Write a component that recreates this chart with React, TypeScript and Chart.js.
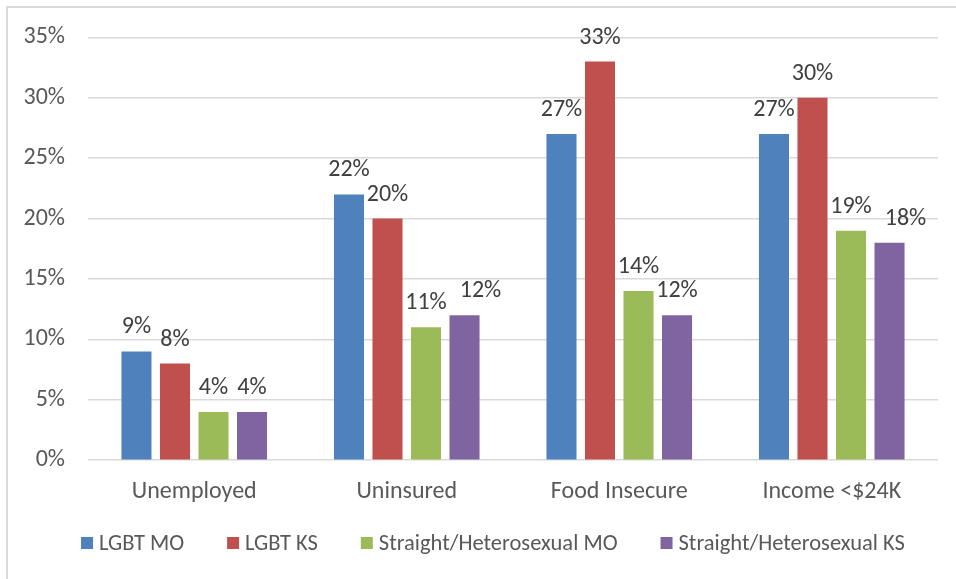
import React, { useEffect, useRef } from "react";
import { Chart, registerables } from "chart.js";

Chart.register(...registerables);

const categories = ["Unemployed", "Uninsured", "Food Insecure", "Income <$24K"];
const seriesNames = ["LGBT MO", "LGBT KS", "Straight/Heterosexual MO", "Straight/Heterosexual KS"];
const lgbtMo = [9, 22, 27, 27];
const lgbtKs = [8, 20, 33, 30];
const straightMo = [4, 11, 14, 19];
const straightKs = [4, 12, 12, 18];
const seriesColors = ["#4f81bd", "#c0504d", "#9bbb59", "#8064a2"];
const yTicks = [0, 5, 10, 15, 20, 25, 30, 35];

const FONT = "Carlito, Calibri, Lato, sans-serif";
const FONT_SIZE = 24;
const LEGEND_FONT_SIZE = 22.5;

// Frame, value labels and the legend row are drawn by this plugin.
const decorations = {
  id: "decorations",
  beforeDraw(chart: any) {
    const { ctx } = chart;
    ctx.save();
    ctx.fillStyle = "#ffffff";
    ctx.fillRect(0, 0, chart.width, chart.height);
    ctx.strokeStyle = "#d9d9d9";
    ctx.lineWidth = 2;
    ctx.beginPath();
    ctx.moveTo(7, chart.height + 5);
    ctx.lineTo(7, 7);
    ctx.lineTo(chart.width + 5, 7);
    ctx.stroke();
    ctx.restore();
  },
  afterDatasetsDraw(chart: any) {
    const { ctx } = chart;
    ctx.save();
    ctx.font = `${FONT_SIZE}px ${FONT}`;
    ctx.fillStyle = "#404040";
    ctx.textAlign = "left";
    ctx.textBaseline = "alphabetic";
    // value labels; a label that would collide with its left neighbour is nudged right
    const n = chart.data.labels.length;
    for (let j = 0; j < n; j++) {
      let prev: { right: number; base: number } | null = null;
      chart.data.datasets.forEach((ds: any, i: number) => {
        const bar: any = chart.getDatasetMeta(i).data[j];
        const text = `${ds.data[j]}%`;
        const w = ctx.measureText(text).width;
        const base = bar.y - 18;
        let left = bar.x - w / 2;
        if (prev && Math.abs(prev.base - base) < 16 && left < prev.right + 4) {
          left = prev.right + 13;
        }
        ctx.fillText(text, left, base);
        prev = { right: left + w, base };
      });
    }

    // legend
    const area = chart.chartArea;
    const box = 12;
    const boxGap = 6;
    const itemGap = 43;
    ctx.font = `${LEGEND_FONT_SIZE}px ${FONT}`;
    const widths = chart.data.datasets.map((ds: any) => box + boxGap + ctx.measureText(ds.label).width);
    const total = widths.reduce((a: number, b: number) => a + b, 0) + itemGap * (widths.length - 1);
    let x = (area.left + area.right) / 2 - 20 - total / 2;
    const cy = 543;
    ctx.textAlign = "left";
    ctx.textBaseline = "middle";
    chart.data.datasets.forEach((ds: any, i: number) => {
      ctx.fillStyle = ds.backgroundColor;
      ctx.fillRect(x, cy - box / 2, box, box);
      ctx.fillStyle = "#595959";
      ctx.fillText(ds.label, x + box + boxGap, cy + 1);
      x += widths[i] + itemGap;
    });
    ctx.restore();
  },
};

export default function App() {
  const canvasRef = useRef<HTMLCanvasElement | null>(null);

  useEffect(() => {
    if (!canvasRef.current) return;
    const values = [lgbtMo, lgbtKs, straightMo, straightKs];
    const chart = new Chart(canvasRef.current, {
      type: "bar",
      data: {
        labels: categories,
        datasets: seriesNames.map((name, i) => ({
          label: name,
          data: values[i],
          backgroundColor: seriesColors[i],
          categoryPercentage: 0.725,
          barPercentage: 0.78,
        })),
      },
      options: {
        animation: false,
        responsive: false,
        maintainAspectRatio: false,
        devicePixelRatio: 1,
        layout: { padding: { top: 35, right: 18, bottom: 56, left: 0 } },
        plugins: {
          legend: { display: false },
          tooltip: { enabled: false },
        },
        scales: {
          x: {
            grid: { display: false, drawTicks: false },
            border: { display: false },
            ticks: {
              color: "#595959",
              font: { family: FONT, size: FONT_SIZE },
              padding: 17,
            },
          },
          y: {
            min: 0,
            max: 35,
            afterFit(scale: any) {
              scale.width = 88;
            },
            afterBuildTicks(scale: any) {
              scale.ticks = yTicks.map((v) => ({ value: v }));
            },
            grid: { color: "#d9d9d9", lineWidth: 1.5, drawTicks: false },
            border: { display: false },
            ticks: {
              color: "#595959",
              font: { family: FONT, size: FONT_SIZE },
              padding: 23,
              callback: (v: any) => `${v}%`,
            },
          },
        },
      },
      plugins: [decorations],
    });
    return () => chart.destroy();
  }, []);

  return (
    <div style={{ position: "fixed", left: 0, top: 0, width: 956, height: 579 }}>
      <canvas ref={canvasRef} width={956} height={579} style={{ width: 956, height: 579, display: "block" }} />
    </div>
  );
}
